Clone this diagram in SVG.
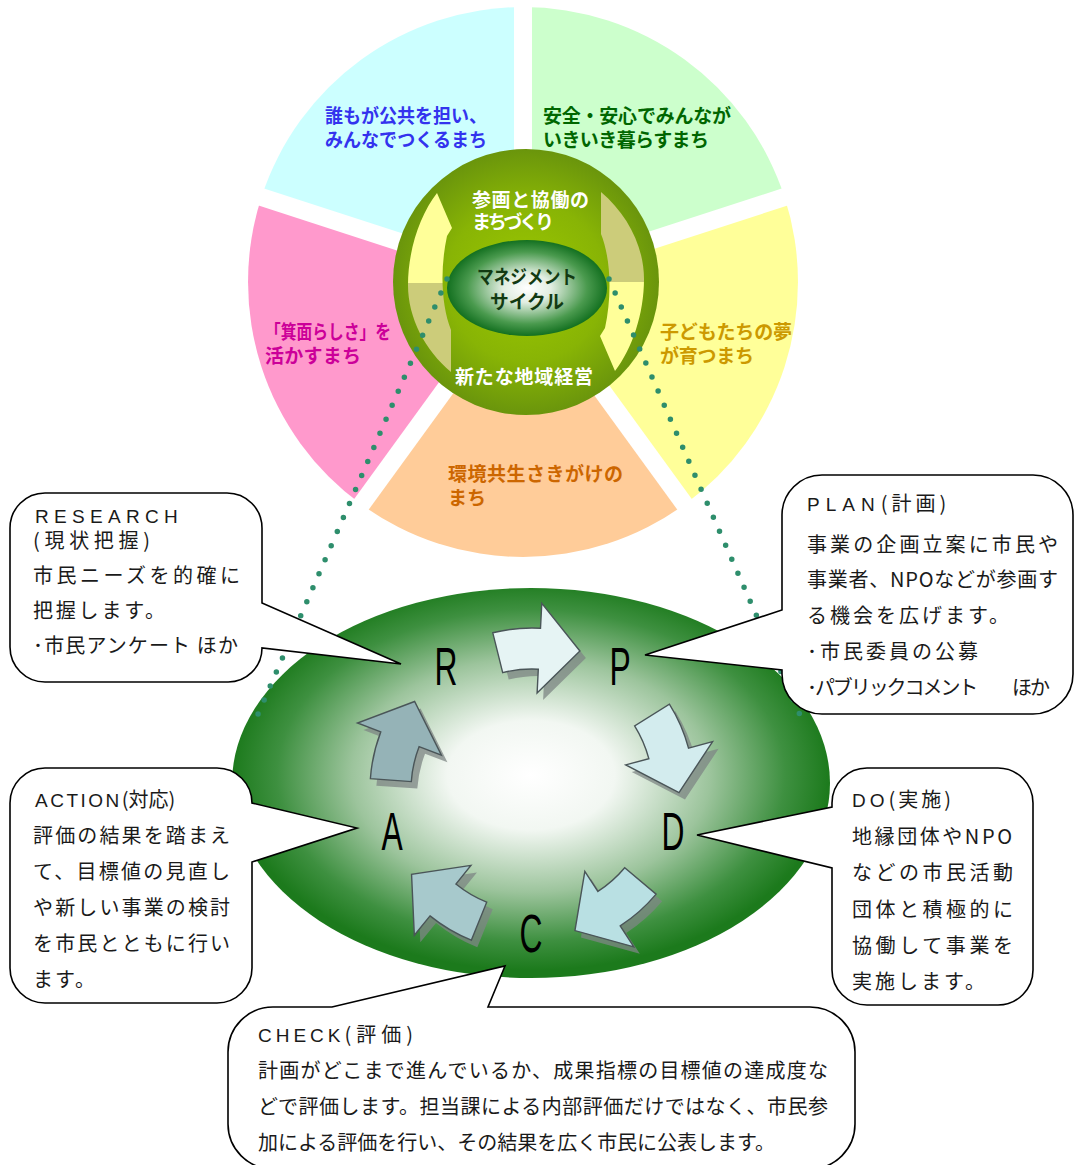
<svg xmlns="http://www.w3.org/2000/svg" width="1075" height="1165" viewBox="0 0 1075 1165">
<style>
.pt{font-family:"Noto Sans CJK JP","Noto Sans",sans-serif;font-weight:700;font-size:19px}
.ct{font-family:"Noto Sans CJK JP","Noto Sans",sans-serif;font-weight:700;font-size:19px;fill:#FFFFFF}
.mt{font-family:"Noto Sans CJK JP","Noto Sans",sans-serif;font-weight:700;font-size:19px;fill:#123A12}
.bt{font-family:"Noto Sans CJK JP","Noto Sans",sans-serif;font-size:20px;fill:#1A1A1A}
.lat{font-family:"Liberation Sans","Noto Sans",sans-serif;font-size:19px}
.big{font-family:"Liberation Sans","DejaVu Sans",sans-serif;font-size:53px;fill:#000}
.co{fill:#FFFFFF;stroke:#000;stroke-width:1.6;stroke-linejoin:miter}
.sep{stroke:#FFFFFF;stroke-width:18}
.dot{fill:none;stroke:#2E8E6C;stroke-width:5.5;stroke-linecap:round;stroke-dasharray:0 15.3}
.arw{stroke:#4A5558;stroke-width:1.4;stroke-linejoin:miter}
.sh{fill:#7E8584;opacity:0.75}
</style>
<defs>
<radialGradient id="gCircle" cx="0.5" cy="0.5" r="0.5">
<stop offset="0" stop-color="#9CC800"/><stop offset="0.6" stop-color="#88B405"/><stop offset="1" stop-color="#6A950C"/>
</radialGradient>
<radialGradient id="gInner" cx="0.5" cy="0.5" r="0.5">
<stop offset="0" stop-color="#FFFFFF"/><stop offset="0.3" stop-color="#E2EEE2"/><stop offset="0.75" stop-color="#4A9A4E"/><stop offset="1" stop-color="#137020"/>
</radialGradient>
<radialGradient id="gBig" cx="0.5" cy="0.48" r="0.5">
<stop offset="0" stop-color="#FFFFFF"/><stop offset="0.28" stop-color="#F2F7F2"/><stop offset="0.6" stop-color="#9CC49C"/><stop offset="0.85" stop-color="#3E9040"/><stop offset="1" stop-color="#1C7A1C"/>
</radialGradient>
<linearGradient id="gArr" x1="0" y1="0" x2="0" y2="1">
<stop offset="0" stop-color="#FFFF99"/><stop offset="0.5" stop-color="#FFFF99"/><stop offset="0.5" stop-color="#CCCC7A"/><stop offset="1" stop-color="#CCCC7A"/>
</linearGradient>
<path id="cyc" d="M -39.2,-157.2 A 162 162 0 0 1 8.5,-161.8 L 9.8,-186.7 L 47.9,-139 L 5.1,-96.9 L 6.3,-120.8 A 121 121 0 0 0 -29.3,-117.4 Z"/>
<path id="ringArrow" d="M 451,372 L 451,330 C 441,305 440,268 447,236 L 452,228 L 437,193 C 420,215 408,250 408,285 C 408,318 425,350 451,372 Z"/>
</defs>

<g id="pie">
<path d="M523,282 L523,7 A275,275 0 0 0 261.5,197 Z" fill="#CCFFFF"/>
<path d="M523,282 L261.5,197 A275,275 0 0 0 361.4,504.5 Z" fill="#FF99CC"/>
<path d="M523,282 L361.4,504.5 A275,275 0 0 0 684.6,504.5 Z" fill="#FFCC99"/>
<path d="M523,282 L684.6,504.5 A275,275 0 0 0 784.5,197 Z" fill="#FFFF99"/>
<path d="M523,282 L784.5,197 A275,275 0 0 0 523,7 Z" fill="#CCFFCC"/>
<line class="sep" x1="523" y1="282" x2="523" y2="-8"/>
<line class="sep" x1="523" y1="282" x2="247.2" y2="192.4"/>
<line class="sep" x1="523" y1="282" x2="352.5" y2="516.6"/>
<line class="sep" x1="523" y1="282" x2="693.5" y2="516.6"/>
<line class="sep" x1="523" y1="282" x2="798.8" y2="192.4"/>
</g>
<g id="sector-kyodo">
<text class="pt" fill="#3333EE" x="325" y="123" textLength="162" lengthAdjust="spacingAndGlyphs">誰もが公共を担い、</text>
<text class="pt" fill="#3333EE" x="325" y="147" textLength="162" lengthAdjust="spacingAndGlyphs">みんなでつくるまち</text>
</g>
<g id="sector-anzen">
<text class="pt" fill="#006600" x="543" y="123" textLength="188" lengthAdjust="spacing">安全・安心でみんなが</text>
<text class="pt" fill="#006600" x="543" y="147" textLength="166" lengthAdjust="spacing">いきいき暮らすまち</text>
</g>
<g id="sector-minoh">
<text class="pt" fill="#CC0099" x="265" y="339" textLength="126" lengthAdjust="spacingAndGlyphs">「箕面らしさ」を</text>
<text class="pt" fill="#CC0099" x="265" y="363" textLength="96" lengthAdjust="spacing">活かすまち</text>
</g>
<g id="sector-kodomo">
<text class="pt" fill="#CC9900" x="660" y="339" textLength="132" lengthAdjust="spacing">子どもたちの夢</text>
<text class="pt" fill="#CC9900" x="660" y="363" textLength="94" lengthAdjust="spacing">が育つまち</text>
</g>
<g id="sector-kankyo">
<text class="pt" fill="#CC6600" x="448" y="481" textLength="175" lengthAdjust="spacing">環境共生さきがけの</text>
<text class="pt" fill="#CC6600" x="448" y="505">まち</text>
</g>

<g id="center-circle">
<circle cx="526" cy="282" r="133" fill="url(#gCircle)"/>
<use href="#ringArrow" fill="url(#gArr)"/>
<use href="#ringArrow" fill="url(#gArr)" transform="rotate(180 526 282)"/>
<text class="ct" x="472" y="207" textLength="117" lengthAdjust="spacing">参画と協働の</text>
<text class="ct" x="472" y="229" textLength="82" lengthAdjust="spacing">まちづくり</text>
<text class="ct" x="455" y="384" textLength="138" lengthAdjust="spacing">新たな地域経営</text>
</g>
<g id="management-cycle">
<ellipse cx="527" cy="288" rx="80" ry="48" fill="url(#gInner)"/>
<text class="mt" x="527" y="284" text-anchor="middle" textLength="100" lengthAdjust="spacingAndGlyphs">マネジメント</text>
<text class="mt" x="527" y="309" text-anchor="middle" textLength="74" lengthAdjust="spacingAndGlyphs">サイクル</text>
</g>

<g id="cycle-ellipse">
<ellipse cx="531" cy="783" rx="299" ry="195" fill="url(#gBig)"/>
</g>

<g id="connectors">
<line class="dot" x1="447" y1="279" x2="252" y2="728"/>
<line class="dot" x1="609" y1="279" x2="800" y2="715"/>
</g>

<g id="cycle-arrows" transform="translate(532,790)">
<g transform="translate(6,7)">
<use href="#cyc" class="sh"/>
<use href="#cyc" class="sh" transform="rotate(72)"/>
<use href="#cyc" class="sh" transform="rotate(144)"/>
<use href="#cyc" class="sh" transform="rotate(216)"/>
<use href="#cyc" class="sh" transform="rotate(288)"/>
</g>
<use href="#cyc" class="arw" fill="#E6F4F4"/>
<use href="#cyc" class="arw" fill="#D3ECEE" transform="rotate(72)"/>
<use href="#cyc" class="arw" fill="#B9E0E3" transform="rotate(144)"/>
<use href="#cyc" class="arw" fill="#A7C9CC" transform="rotate(216)"/>
<use href="#cyc" class="arw" fill="#95B3B7" transform="rotate(288)"/>
</g>

<g id="node-R"><text class="big" text-anchor="middle" transform="translate(446,685) scale(0.6,1)">R</text></g>
<g id="node-P"><text class="big" text-anchor="middle" transform="translate(620,685) scale(0.6,1)">P</text></g>
<g id="node-D"><text class="big" text-anchor="middle" transform="translate(673,850) scale(0.6,1)">D</text></g>
<g id="node-C"><text class="big" text-anchor="middle" transform="translate(531,952) scale(0.6,1)">C</text></g>
<g id="node-A"><text class="big" text-anchor="middle" transform="translate(392,850) scale(0.6,1)">A</text></g>

<g id="callout-research">
<path class="co" d="M 45,493 H 227 A 35 35 0 0 1 262,528 V 603 L 401,664 L 262,648 A 34 34 0 0 1 227,682 H 45 A 35 35 0 0 1 10,647 V 528 A 35 35 0 0 1 45,493 Z"/>
<text class="lat" x="35" y="523" letter-spacing="5.3" fill="#1A1A1A">RESEARCH</text>
<text class="bt" x="33" y="548" textLength="117" lengthAdjust="spacing">(現状把握)</text>
<text class="bt" x="33" y="583" textLength="207" lengthAdjust="spacing">市民ニーズを的確に</text>
<text class="bt" x="33" y="618" textLength="132" lengthAdjust="spacing">把握します。</text>
<text class="bt" x="33" y="653" textLength="205" lengthAdjust="spacing">･市民アンケート ほか</text>
</g>

<g id="callout-plan">
<path class="co" d="M 822,475 H 1033 A 40 40 0 0 1 1073,515 V 674 A 40 40 0 0 1 1033,714 H 822 A 40 40 0 0 1 782,674 V 670 L 645,655 L 782,610 V 515 A 40 40 0 0 1 822,475 Z"/>
<text class="bt" x="807" y="511"><tspan class="lat" letter-spacing="6">PLAN</tspan><tspan letter-spacing="4">(計画)</tspan></text>
<text class="bt" x="807" y="552" textLength="251" lengthAdjust="spacing">事業の企画立案に市民や</text>
<text class="bt" x="807" y="587" textLength="251" lengthAdjust="spacing">事業者、NPOなどが参画す</text>
<text class="bt" x="807" y="623" letter-spacing="3">る機会を広げます。</text>
<text class="bt" x="807" y="659" letter-spacing="3">･市民委員の公募</text>
<text class="bt" x="807" y="695" textLength="243" lengthAdjust="spacing">･パブリックコメント　　ほか</text>
</g>

<g id="callout-action">
<path class="co" d="M 45,768 H 217 A 35 35 0 0 1 252,803 L 357,828 L 252,862 V 968 A 35 35 0 0 1 217,1003 H 45 A 35 35 0 0 1 10,968 V 803 A 35 35 0 0 1 45,768 Z"/>
<text class="bt" x="35" y="807"><tspan class="lat" letter-spacing="2.5">ACTION</tspan><tspan>(対応)</tspan></text>
<text class="bt" x="33" y="843" textLength="197" lengthAdjust="spacing">評価の結果を踏まえ</text>
<text class="bt" x="33" y="879" textLength="197" lengthAdjust="spacing">て、目標値の見直し</text>
<text class="bt" x="33" y="915" textLength="197" lengthAdjust="spacing">や新しい事業の検討</text>
<text class="bt" x="33" y="951" textLength="197" lengthAdjust="spacing">を市民とともに行い</text>
<text class="bt" x="33" y="987" letter-spacing="2">ます。</text>
</g>

<g id="callout-do">
<path class="co" d="M 867,768 H 998 A 35 35 0 0 1 1033,803 V 970 A 35 35 0 0 1 998,1005 H 867 A 35 35 0 0 1 832,970 V 868 L 697,835 L 832,807 V 803 A 35 35 0 0 1 867,768 Z"/>
<text class="bt" x="852" y="807"><tspan class="lat" letter-spacing="4">DO</tspan><tspan letter-spacing="3">(実施)</tspan></text>
<text class="bt" x="852" y="844" textLength="160" lengthAdjust="spacing">地縁団体やNPO</text>
<text class="bt" x="852" y="880" textLength="161" lengthAdjust="spacing">などの市民活動</text>
<text class="bt" x="852" y="917" textLength="161" lengthAdjust="spacing">団体と積極的に</text>
<text class="bt" x="852" y="953" textLength="161" lengthAdjust="spacing">協働して事業を</text>
<text class="bt" x="852" y="989" letter-spacing="3">実施します。</text>
</g>

<g id="callout-check">
<path class="co" d="M 273,1007 H 332 L 505,966 L 488,1007 H 810 A 45 45 0 0 1 855,1052 V 1124 A 45 45 0 0 1 810,1169 H 273 A 45 45 0 0 1 228,1124 V 1052 A 45 45 0 0 1 273,1007 Z"/>
<text class="bt" x="258" y="1042"><tspan class="lat" letter-spacing="4">CHECK</tspan><tspan letter-spacing="5">(評価)</tspan></text>
<text class="bt" x="258" y="1078" textLength="570" lengthAdjust="spacing">計画がどこまで進んでいるか、成果指標の目標値の達成度な</text>
<text class="bt" x="258" y="1114" textLength="570" lengthAdjust="spacing">どで評価します。担当課による内部評価だけではなく、市民参</text>
<text class="bt" x="258" y="1150" textLength="517" lengthAdjust="spacing">加による評価を行い、その結果を広く市民に公表します。</text>
</g>
</svg>
